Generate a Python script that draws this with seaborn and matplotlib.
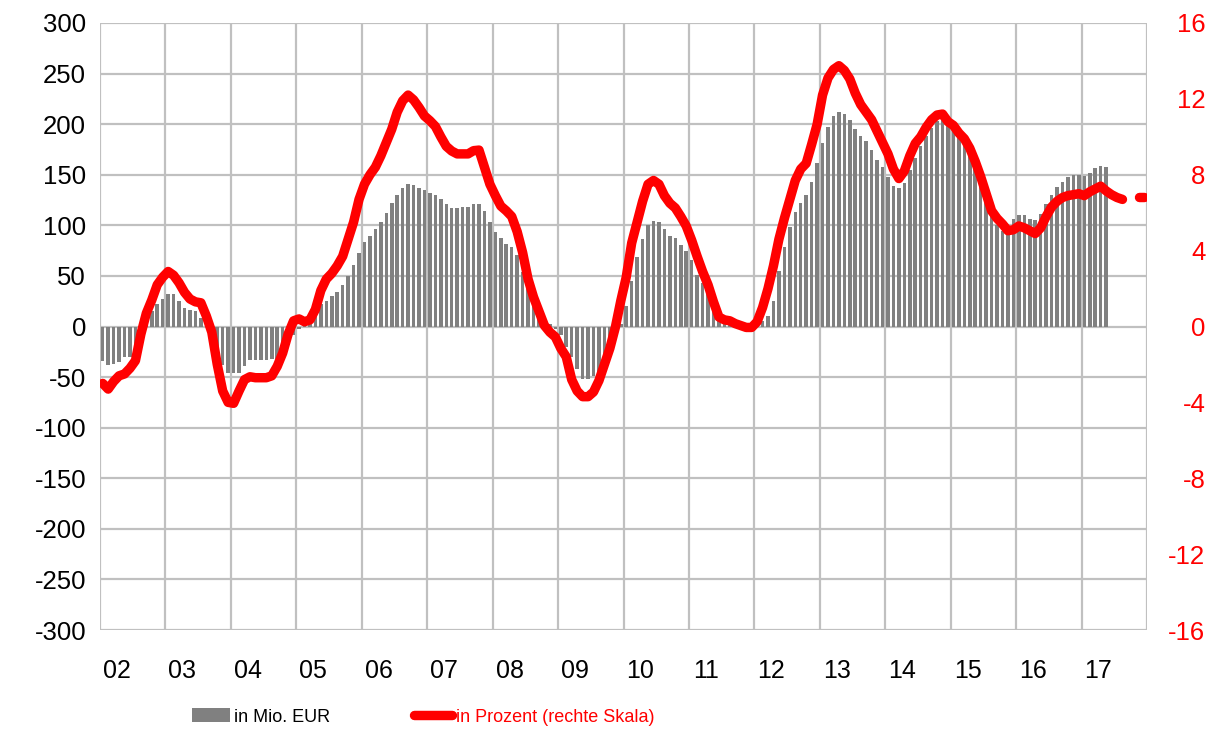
import numpy as np
import pandas as pd
import seaborn as sns
import matplotlib.pyplot as plt
from matplotlib.patches import Patch
from matplotlib.lines import Line2D

# year labels on the x axis
years = ["02", "03", "04", "05", "06", "07", "08", "09",
         "10", "11", "12", "13", "14", "15", "16", "17"]

# monthly values in Mio. EUR (bars), Jan 2002 - May 2017
bars_eur = [
    -34, -38, -37, -35, -30, -30, -22, -12, 3, 15, 22, 27,          # 2002
    32, 32, 25, 18, 16, 15, 8, 0, -15, -30, -38, -46,               # 2003
    -46, -46, -39, -33, -33, -33, -33, -32, -33, -30, -18, -8,      # 2004
    -2, 2, 4, 12, 22, 25, 30, 34, 41, 50, 61, 73,                   # 2005
    84, 89, 96, 103, 112, 122, 130, 137, 141, 140, 137, 135,        # 2006
    132, 130, 126, 121, 117, 117, 118, 118, 121, 121, 114, 103,     # 2007
    93, 87, 82, 79, 71, 54, 40, 25, 12, 5, 2, -2,                   # 2008
    -8, -20, -30, -42, -52, -52, -49, -45, -33, -20, -5, 2,         # 2009
    20, 45, 69, 86, 100, 104, 103, 96, 89, 87, 81, 75,              # 2010
    66, 51, 43, 36, 25, 15, 8, 5, 3, 2, 2, 2,                       # 2011
    3, 5, 10, 25, 55, 79, 98, 113, 122, 130, 143, 162,              # 2012
    181, 197, 208, 212, 210, 204, 195, 188, 183, 174, 165, 158,     # 2013
    148, 139, 137, 142, 155, 167, 178, 188, 196, 203, 208, 205,     # 2014
    201, 195, 188, 177, 165, 152, 138, 118, 100, 94, 98, 106,       # 2015
    110, 110, 106, 105, 111, 121, 130, 138, 143, 148, 150, 150,     # 2016
    149, 152, 157, 159, 158,                                        # 2017
]

# monthly change in percent (right scale), Jan 2002 - Dec 2017
line_pct = [
    -3.0, -3.3, -2.9, -2.6, -2.5, -2.2, -1.8, -0.4, 0.7, 1.4, 2.2, 2.6,
    2.9, 2.7, 2.3, 1.8, 1.45, 1.3, 1.25, 0.55, -0.3, -2.0, -3.4, -4.0,
    -4.05, -3.4, -2.8, -2.65, -2.7, -2.7, -2.7, -2.6, -2.1, -1.4, -0.4, 0.3,
    0.4, 0.25, 0.35, 0.9, 1.9, 2.5, 2.8, 3.2, 3.7, 4.6, 5.5, 6.7,
    7.5, 8.0, 8.4, 9.0, 9.7, 10.4, 11.3, 11.9, 12.2, 11.95, 11.55, 11.1,
    10.85, 10.55, 10.0, 9.5, 9.25, 9.1, 9.1, 9.1, 9.27, 9.3, 8.4, 7.5,
    6.9, 6.35, 6.1, 5.8, 5.0, 3.9, 2.5, 1.55, 0.8, 0.05, -0.3, -0.55,
    -1.15, -1.6, -2.8, -3.4, -3.7, -3.7, -3.45, -2.85, -2.0, -1.15, -0.05, 1.35,
    2.6, 4.4, 5.5, 6.6, 7.5, 7.7, 7.5, 6.9, 6.5, 6.25, 5.8, 5.3,
    4.55, 3.7, 2.9, 2.2, 1.3, 0.5, 0.35, 0.3, 0.15, 0.05, -0.05, -0.05,
    0.25, 1.0, 2.0, 3.2, 4.6, 5.7, 6.7, 7.7, 8.3, 8.6, 9.6, 10.65,
    12.2, 13.1, 13.55, 13.75, 13.5, 13.05, 12.3, 11.7, 11.3, 10.9, 10.3, 9.7,
    9.1, 8.3, 7.8, 8.2, 9.0, 9.65, 10.0, 10.5, 10.9, 11.15, 11.2, 10.8,
    10.6, 10.2, 9.9, 9.4, 8.7, 7.9, 7.0, 6.1, 5.7, 5.4, 5.05, 5.1,
    5.3, 5.2, 5.05, 4.9, 5.2, 5.8, 6.3, 6.6, 6.8, 6.9, 6.95, 7.0,
    6.9, 7.1, 7.25, 7.4, 7.15, 6.95, 6.8, 6.7, np.nan, np.nan, 6.85, 6.85,
]

sns.set_theme(style="white")
plt.rcParams["font.family"] = ["Liberation Sans", "DejaVu Sans"]
plt.rcParams["axes.unicode_minus"] = False

df_bar = pd.DataFrame({"month": np.arange(len(bars_eur)), "value": bars_eur})
df_line = pd.DataFrame({"month": np.arange(len(line_pct)), "value": line_pct})
line_main = df_line.iloc[:188]
line_tail = df_line.iloc[190:]

fig = plt.figure(figsize=(12.3, 7.31), dpi=100)
ax = fig.add_axes([100 / 1230, 101 / 731, 1047 / 1230, 607 / 731])

sns.barplot(data=df_bar, x="month", y="value", native_scale=True,
            color="#808080", saturation=1, width=0.65, linewidth=0, ax=ax)

ax2 = ax.twinx()
for part in (line_main, line_tail):
    sns.lineplot(data=part, x="month", y="value", estimator=None, color="#ff0000",
                 linewidth=6.8, solid_capstyle="round", solid_joinstyle="round", ax=ax2)

grid_c = "#c0c0c0"
ax.set_xlim(-0.5, 191.5)
ax.set_ylim(-300, 300)
ax2.set_ylim(-16, 16)

ax.set_xticks(np.arange(0, 193, 12) - 0.5)
ax.set_xticklabels([])
ax.set_xticks(np.arange(16) * 12 - 0.5 + 3.1, labels=years, minor=True)
ax.set_yticks(range(-300, 301, 50))
ax2.set_yticks(range(-16, 17, 4))

ax.tick_params(axis="x", which="both", length=0, pad=21, labelsize=18, labelcolor="black")
ax.tick_params(axis="y", length=0, pad=10, labelsize=18.5, labelcolor="black")
ax2.tick_params(axis="y", length=0, pad=42, labelsize=18.5, labelcolor="#ff0000")
for lab in ax2.get_yticklabels():
    lab.set_horizontalalignment("right")

ax.grid(True, which="major", color=grid_c, linewidth=1.6)
ax.set_axisbelow(True)
for a in (ax, ax2):
    a.set_xlabel("")
    a.set_ylabel("")
    for s in a.spines.values():
        s.set_visible(False)

handles = [Patch(facecolor="#808080", edgecolor="none"),
           Line2D([0], [0], color="#ff0000", linewidth=6.8, solid_capstyle="round")]
leg = fig.legend(handles, ["in Mio. EUR", "in Prozent (rechte Skala)"],
                 loc="center left", bbox_to_anchor=(183 / 1230, 1 - 717 / 731),
                 ncol=2, frameon=False, fontsize=13, borderpad=0,
                 handlelength=2.1, handleheight=0.8, handletextpad=0.25,
                 columnspacing=4.6)
leg.get_texts()[0].set_color("black")
leg.get_texts()[1].set_color("#ff0000")

fig.savefig("out.png", dpi=100)
